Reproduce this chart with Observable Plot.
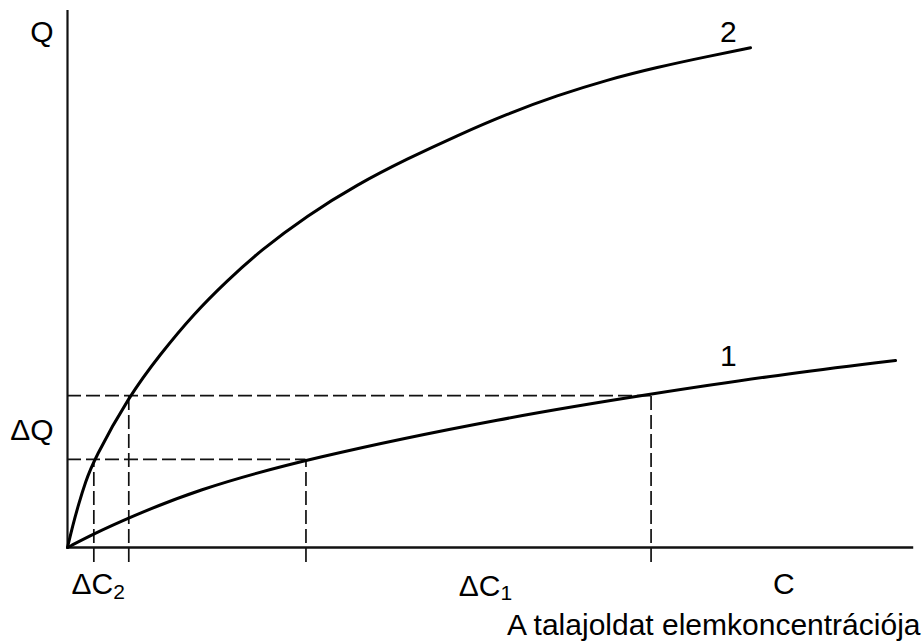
<!DOCTYPE html>
<html>
<head>
<meta charset="utf-8">
<script src="https://cdn.jsdelivr.net/npm/d3@7"></script>
<script src="https://cdn.jsdelivr.net/npm/@observablehq/plot@0.6"></script>
<style>
  html, body { margin: 0; padding: 0; background: #fff; }
  #chart svg { display: block; }
</style>
</head>
<body>
<div id="chart"></div>
<script>
// Curve 2 (steep isotherm): concentration C vs sorbed amount Q
const curve2C = [0, 0.060, 0.133, 0.217, 0.318, 0.740, 1.123, 1.525, 1.929, 2.331, 2.895, 3.499, 4.103, 4.707, 5.311, 5.914, 6.518, 7.122, 7.726, 8.249];
const curve2Q = [0, 0.391, 0.801, 1.220, 1.630, 2.815, 3.607, 4.352, 4.972, 5.531, 6.182, 6.760, 7.238, 7.672, 8.076, 8.417, 8.709, 8.944, 9.143, 9.305];
// Curve 1 (flat isotherm)
const curve1C = [0, 0.318, 0.740, 1.534, 2.88, 5.302, 7.048, 8.611, 10];
const curve1Q = [0, 0.255, 0.553, 1.061, 1.655, 2.426, 2.86, 3.222, 3.482];
// ΔQ levels and the concentrations where the curves reach them
const qLevels = [1.64, 2.83];
const c2AtLevels = [0.318, 0.740];
const c1AtLevels = [2.88, 7.048];
// Texts
const yAxisLabel = "Q";
const deltaQLabel = "ΔQ";
const deltaCLabels = ["ΔC", "ΔC"];
const deltaCSubs = ["2", "1"];
const xAxisLetter = "C";
const xAxisLetterAt = 8.65;
const curveNames = ["2", "1"];
const curveNameAt = [{c: 7.98, q: 9.6}, {c: 7.98, q: 3.55}];
const xTitle = "A talajoldat elemkoncentrációja";

const c2 = curve2C.map((c, i) => ({c, q: curve2Q[i]}));
const c1 = curve1C.map((c, i) => ({c, q: curve1Q[i]}));

const hDash = qLevels.map((q, i) => ({x1: 0, x2: c1AtLevels[i], y: q}));
const vDash = [
  ...c2AtLevels.map((c, i) => ({x: c, y1: -0.28, y2: qLevels[i]})),
  ...c1AtLevels.map((c, i) => ({x: c, y1: -0.28, y2: qLevels[i]}))
];
const dcMid = [
  (c2AtLevels[0] + c2AtLevels[1]) / 2,
  (c1AtLevels[0] + c1AtLevels[1]) / 2
];
const dcLabelData = deltaCLabels.map((t, i) => ({t, c: dcMid[i], sub: deltaCSubs[i]}));

const font = "Liberation Sans, Arial, Helvetica, sans-serif";
const fs = 30;

const chart = Plot.plot({
  width: 923,
  height: 644,
  marginLeft: 67,
  marginRight: 28,
  marginTop: 10,
  marginBottom: 97,
  x: {domain: [0, 10], axis: null},
  y: {domain: [0, 10], axis: null},
  style: {background: "#fff", fontFamily: font},
  marks: [
    // axes
    Plot.ruleX([0], {y1: 0, y2: 10, stroke: "#111", strokeWidth: 2.2}),
    Plot.ruleY([0], {x1: 0, x2: 10.22, stroke: "#111", strokeWidth: 2.5}),
    // dashed construction lines
    Plot.ruleY(hDash, {x1: "x1", x2: "x2", y: "y", stroke: "#111", strokeWidth: 1.7, strokeDasharray: "14,5"}),
    Plot.ruleX(vDash, {x: "x", y1: "y1", y2: "y2", stroke: "#111", strokeWidth: 1.7, strokeDasharray: "14,5"}),
    // curves
    Plot.line(c2, {x: "c", y: "q", curve: "basis", stroke: "#000", strokeWidth: 3}),
    Plot.line(c1, {x: "c", y: "q", curve: "basis", stroke: "#000", strokeWidth: 3}),
    // curve names
    Plot.text(curveNames, {x: (d, i) => curveNameAt[i].c, y: (d, i) => curveNameAt[i].q, text: d => d, fontSize: fs, fontFamily: font, fill: "#000"}),
    // y-axis labels
    Plot.text([yAxisLabel], {x: 0, y: 10, text: d => d, textAnchor: "end", dx: -14, dy: 22, fontSize: fs, fontFamily: font, fill: "#000"}),
    Plot.text([deltaQLabel], {x: 0, y: (qLevels[0] + qLevels[1]) / 2, text: d => d, textAnchor: "end", dx: -14, dy: 3, fontSize: fs, fontFamily: font, fill: "#000"}),
    // ΔC labels
    Plot.text(dcLabelData.slice(0, 1), {x: "c", y: 0, text: "t", textAnchor: "end", dx: 2, dy: 37, fontSize: fs, fontFamily: font, fill: "#000"}),
    Plot.text(dcLabelData.slice(0, 1), {x: "c", y: 0, text: "sub", textAnchor: "start", dx: 2, dy: 45, fontSize: 21, fontFamily: font, fill: "#000"}),
    Plot.text(dcLabelData.slice(1), {x: "c", y: 0, text: "t", textAnchor: "end", dx: 22, dy: 39, fontSize: fs, fontFamily: font, fill: "#000"}),
    Plot.text(dcLabelData.slice(1), {x: "c", y: 0, text: "sub", textAnchor: "start", dx: 22, dy: 46, fontSize: 21, fontFamily: font, fill: "#000"}),
    // C letter
    Plot.text([xAxisLetter], {x: xAxisLetterAt, y: 0, text: d => d, dy: 37, fontSize: fs, fontFamily: font, fill: "#000"}),
    // x title
    Plot.text([xTitle], {frameAnchor: "bottom-right", lineAnchor: "middle", text: d => d, textAnchor: "end", dx: 25, dy: 78, fontSize: fs, fontFamily: font, fill: "#000"})
  ]
});
document.getElementById("chart").appendChild(chart);
</script>
</body>
</html>
